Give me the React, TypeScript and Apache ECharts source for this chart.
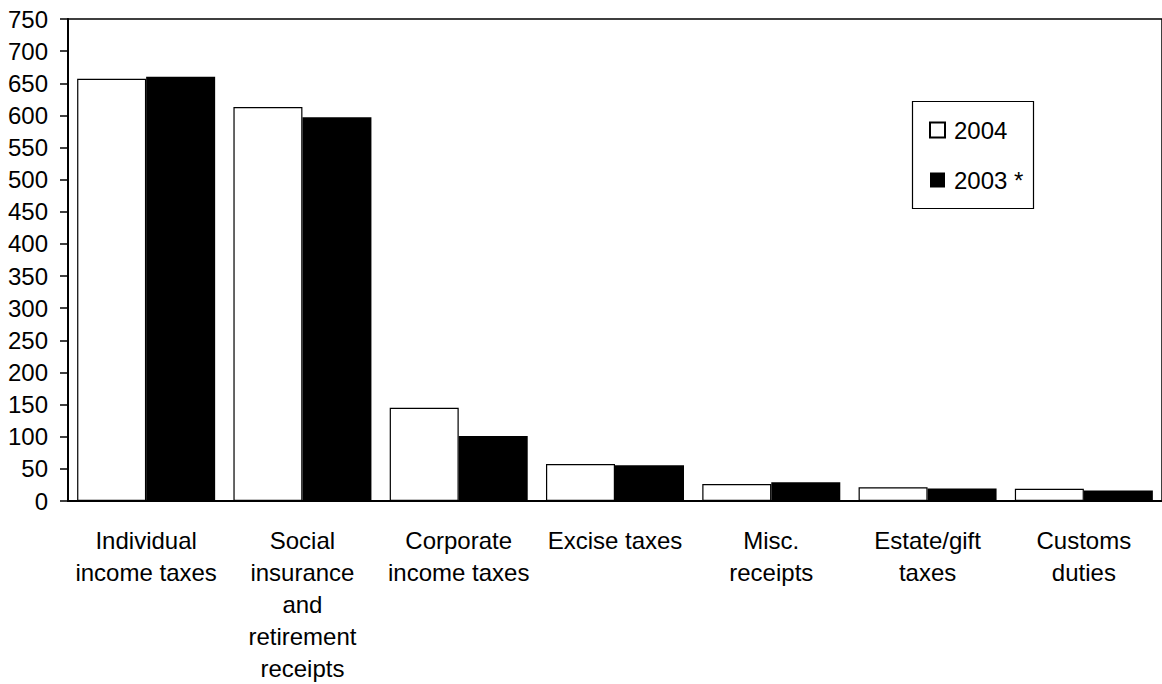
import React, { useEffect, useRef } from "react";
import * as echarts from "echarts";

const categories = [
  "Individual\nincome taxes",
  "Social\ninsurance\nand\nretirement\nreceipts",
  "Corporate\nincome taxes",
  "Excise taxes",
  "Misc.\nreceipts",
  "Estate/gift\ntaxes",
  "Customs\nduties",
];
const values2004 = [657, 613, 145, 57.5, 26.5, 21.5, 19];
const values2003 = [660, 597, 101, 55.5, 29, 19.5, 16.5];
const seriesNames = ["2004", "2003 *"];
const yMin = 0;
const yMax = 750;
const yInterval = 50;

const FONT = "'Liberation Sans', Arial, Helvetica, sans-serif";

export default function App() {
  const ref = useRef<HTMLDivElement>(null);
  useEffect(() => {
    if (!ref.current) return;
    const chart = echarts.init(ref.current, undefined, { renderer: "svg" });
    chart.setOption({
      animation: false,
      backgroundColor: "#ffffff",
      textStyle: { fontFamily: FONT },
      grid: {
        left: 68,
        top: 19,
        bottom: 179,
        width: 1097,
        show: true,
        borderColor: "#000",
        borderWidth: 1.5,
      },
      legend: {
        orient: "vertical",
        left: 929,
        top: 118,
        padding: 0,
        icon: "rect",
        itemWidth: 15,
        itemHeight: 15,
        itemGap: 26,
        data: seriesNames,
        textStyle: { fontSize: 24, color: "#000", fontFamily: FONT, padding: [0, 0, 0, 4] },
      },
      graphic: [
        {
          type: "rect",
          shape: { x: 912.5, y: 101.5, width: 121, height: 107 },
          style: { fill: "none", stroke: "#000", lineWidth: 1.2 },
          z: 10,
        },
      ],
      xAxis: {
        type: "category",
        data: categories,
        axisLine: { show: true, lineStyle: { color: "#000", width: 2 } },
        axisTick: { show: false },
        axisLabel: {
          interval: 0,
          margin: 23,
          fontSize: 24,
          lineHeight: 32,
          color: "#000",
          fontFamily: FONT,
          align: "center",
        },
        splitLine: { show: false },
      },
      yAxis: {
        type: "value",
        min: yMin,
        max: yMax,
        interval: yInterval,
        axisLine: { show: true, lineStyle: { color: "#000", width: 2 } },
        axisTick: { show: true, length: 8, lineStyle: { color: "#000", width: 1.5 } },
        axisLabel: { margin: 20, fontSize: 24, color: "#000", fontFamily: FONT },
        splitLine: { show: false },
      },
      series: [
        {
          name: seriesNames[0],
          type: "bar",
          data: values2004,
          barGap: "0%",
          barCategoryGap: "11.7%",
          itemStyle: { color: "#ffffff", borderColor: "#000", borderWidth: 1.2 },
        },
        {
          name: seriesNames[1],
          type: "bar",
          data: values2003,
          barGap: "0%",
          barCategoryGap: "11.7%",
          itemStyle: { color: "#000000", borderColor: "#000", borderWidth: 0 },
        },
      ],
    });
    return () => chart.dispose();
  }, []);
  return (
    <div
      ref={ref}
      style={{ position: "fixed", left: 0, top: 0, width: 1162, height: 684 }}
    />
  );
}
